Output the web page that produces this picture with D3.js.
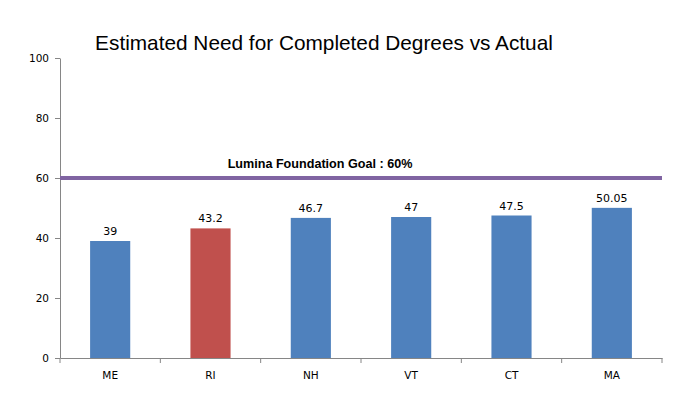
<!DOCTYPE html>
<html><head><meta charset="utf-8">
<script src="https://cdn.jsdelivr.net/npm/d3@7"></script>
<style>body{margin:0;background:#fff}svg{display:block}</style>
</head><body>
<svg id="c" width="697" height="397"></svg>
<script>
const categories = ["ME","RI","NH","VT","CT","MA"];
const values = [39, 43.2, 46.7, 47, 47.5, 50.05];
const valueLabels = ["39","43.2","46.7","47","47.5","50.05"];
const barColors = ["#4f81bd","#c0504d","#4f81bd","#4f81bd","#4f81bd","#4f81bd"];
const yTicks = [0,20,40,60,80,100];
const goalValue = 60;
const goalLabel = "Lumina Foundation Goal : 60%";
const title = "Estimated Need for Completed Degrees vs Actual";

(function(){
const svg = d3.select("#c");
const mLeft = 60, mRight = 662, mTop = 58, mBottom = 358;
const x = d3.scaleBand().domain(categories).range([mLeft, mRight]).paddingInner(0.6).paddingOuter(0.3);
const xTick = d3.scaleBand().domain(categories).range([mLeft, mRight]);
const y = d3.scaleLinear().domain([0,100]).range([mBottom, mTop]);
const font = "'Liberation Sans', Arial, sans-serif";
const tickFont = "'DejaVu Sans', Verdana, sans-serif";

const defs = svg.append("defs");
defs.append("filter").attr("id","blur").attr("x","-5%").attr("y","-200%").attr("width","110%").attr("height","500%")
  .append("feGaussianBlur").attr("stdDeviation", 1.2);

svg.append("text").attr("x", 324).attr("y", 50).attr("text-anchor","middle")
  .attr("font-family", font).attr("font-size", 20.8).attr("fill","#000").text(title);

svg.selectAll("rect.bar").data(categories).enter().append("rect")
  .attr("x", d => x(d)).attr("width", x.bandwidth())
  .attr("y", (d,i) => y(values[i])).attr("height", (d,i) => mBottom - y(values[i]))
  .attr("fill", (d,i) => barColors[i]);

svg.selectAll("text.val").data(categories).enter().append("text")
  .attr("x", d => x(d) + x.bandwidth()/2).attr("y", (d,i) => y(values[i]) - 6)
  .attr("text-anchor","middle").attr("font-family", tickFont).attr("font-size", 11)
  .attr("fill","#000").text((d,i) => valueLabels[i]);

const gy = svg.append("g").attr("transform", `translate(${mLeft},0)`)
  .call(d3.axisLeft(y).tickValues(yTicks).tickSize(5).tickSizeOuter(0));
const gx = svg.append("g").attr("transform", `translate(0,${mBottom})`)
  .call(d3.axisBottom(xTick).tickSize(0).tickSizeOuter(0));
[gy, gx].forEach(g => {
  g.select(".domain").attr("stroke","#868686");
  g.selectAll(".tick line").attr("stroke","#868686");
  g.selectAll("text").attr("font-family", tickFont).attr("font-size", 10.5).attr("fill","#000");
});
gy.selectAll("text").attr("x", -11);
gx.selectAll("text").attr("dy", 0).attr("y", 21);
const bounds = categories.map(d => xTick(d)).concat([mRight]);
svg.selectAll("line.xt").data(bounds).enter().append("line")
  .attr("x1", d => d).attr("x2", d => d).attr("y1", mBottom).attr("y2", mBottom + 5)
  .attr("stroke","#868686");

svg.append("line").attr("x1", mLeft).attr("x2", mRight + 2).attr("y1", y(goalValue)+2.5).attr("y2", y(goalValue)+2.5)
  .attr("stroke","#000").attr("stroke-opacity",0.3).attr("stroke-width",4).attr("filter","url(#blur)");
svg.append("line").attr("x1", mLeft).attr("x2", mRight).attr("y1", y(goalValue)).attr("y2", y(goalValue))
  .attr("stroke","#8064a2").attr("stroke-width",4);
svg.append("text").attr("x", 320).attr("y", 168).attr("text-anchor","middle")
  .attr("font-family", font).attr("font-size", 12.6).attr("font-weight","bold").attr("fill","#000").text(goalLabel);
})();
</script>
</body></html>
